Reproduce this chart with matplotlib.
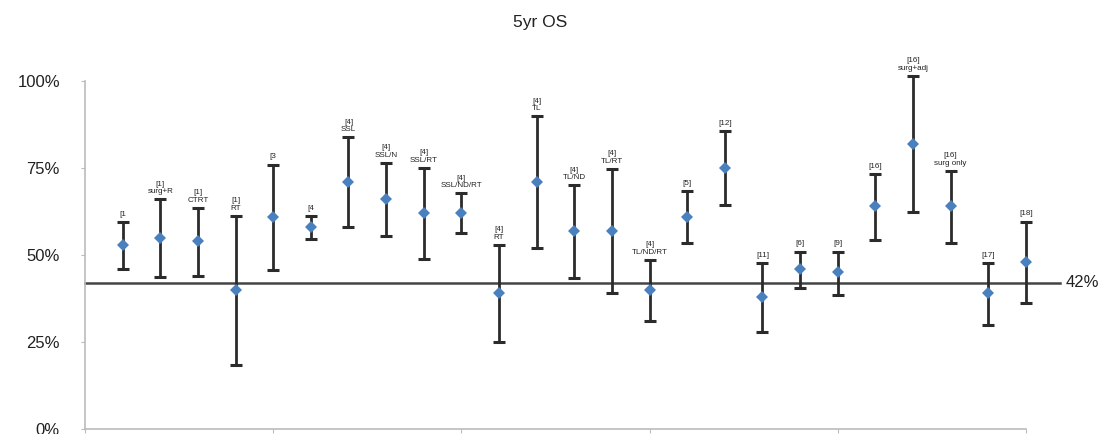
import numpy as np
import matplotlib
matplotlib.use("Agg")
import matplotlib.pyplot as plt

plt.rcParams['font.family'] = ['Liberation Sans', 'DejaVu Sans']

# Studie-etiketter og 5-års overlevelse (%) med konfidensintervall
etiketter = ["[1", "[1]\nsurg+R", "[1]\nCTRT", "[1]\nRT", "[3",
             "[4", "[4]\nSSL", "[4]\nSSL/N", "[4]\nSSL/RT", "[4]\nSSL/ND/RT",
             "[4]\nRT", "[4]\nTL", "[4]\nTL/ND", "[4]\nTL/RT", "[4]\nTL/ND/RT",
             "[5]", "[12]", "[11]", "[6]", "[9]",
             "[16]", "[16]\nsurg+adj", "[16]\nsurg only", "[17]", "[18]"]
os5 = np.array([53, 55, 54, 40, 61,
                58, 71, 66, 62, 62,
                39, 71, 57, 57, 40,
                61, 75, 38, 46, 45,
                64, 82, 64, 39, 48])
ovre = np.array([59.5, 66, 63.6, 61.3, 76,
                 61.2, 83.8, 76.4, 75, 67.7,
                 52.9, 89.9, 70, 74.7, 48.6,
                 68.3, 85.5, 47.8, 51, 51,
                 73.3, 101.4, 74.2, 47.8, 59.6])
nedre = np.array([46, 43.6, 44, 18.3, 45.8,
                  54.5, 58, 55.4, 48.9, 56.2,
                  24.9, 52, 43.5, 39, 31.1,
                  53.5, 64.4, 28, 40.4, 38.6,
                  54.4, 62.5, 53.5, 29.8, 36.2])
referanse = 42

x = np.arange(1, len(os5) + 1)

fig = plt.figure(figsize=(11.02, 4.34), dpi=100)
ax = fig.add_axes([0.0771, 0.0115, 0.8539, 0.8018])

ax.errorbar(x, os5, yerr=[os5 - nedre, ovre - os5], fmt="none",
            ecolor="#2b2b2b", elinewidth=2, capsize=4.5, capthick=2.2,
            clip_on=False, zorder=3)
ax.plot(x, os5, "D", color="#4a80bd", markersize=6.5, markeredgewidth=0,
        clip_on=False, zorder=4)

for xi, top, lab in zip(x, ovre, etiketter):
    ax.annotate(lab, (xi, top), xytext=(0, 3), textcoords="offset points",
                ha="center", va="bottom", fontsize=5.8, linespacing=1.1,
                color="#222222", annotation_clip=False)

# referanselinje 42%
ax.plot([0, 25.9], [referanse, referanse], color="#444444", lw=1.8,
        clip_on=False, zorder=2)
ax.text(26.05, referanse, "42%", fontsize=12, va="center", ha="left",
        color="#222222")

ax.set_xlim(0, 25)
ax.set_ylim(0, 100)
ax.set_xticks(np.arange(0, 26, 5))
ax.set_xticklabels([])
ax.set_yticks([0, 25, 50, 75, 100])
ax.set_yticklabels(["0%", "25%", "50%", "75%", "100%"], fontsize=12,
                   color="#222222")
ax.tick_params(axis="y", length=3, color="#bbbbbb", pad=15)
ax.tick_params(axis="x", length=3, color="#bbbbbb", direction="out")
for s in ["top", "right"]:
    ax.spines[s].set_visible(False)
for s in ["left", "bottom"]:
    ax.spines[s].set_color("#bbbbbb")
    ax.spines[s].set_linewidth(1.2)

fig.text(0.49, 0.949, "5yr OS", ha="center", va="center", fontsize=12.5,
         color="#222222")

fig.savefig("out.png", dpi=100)
